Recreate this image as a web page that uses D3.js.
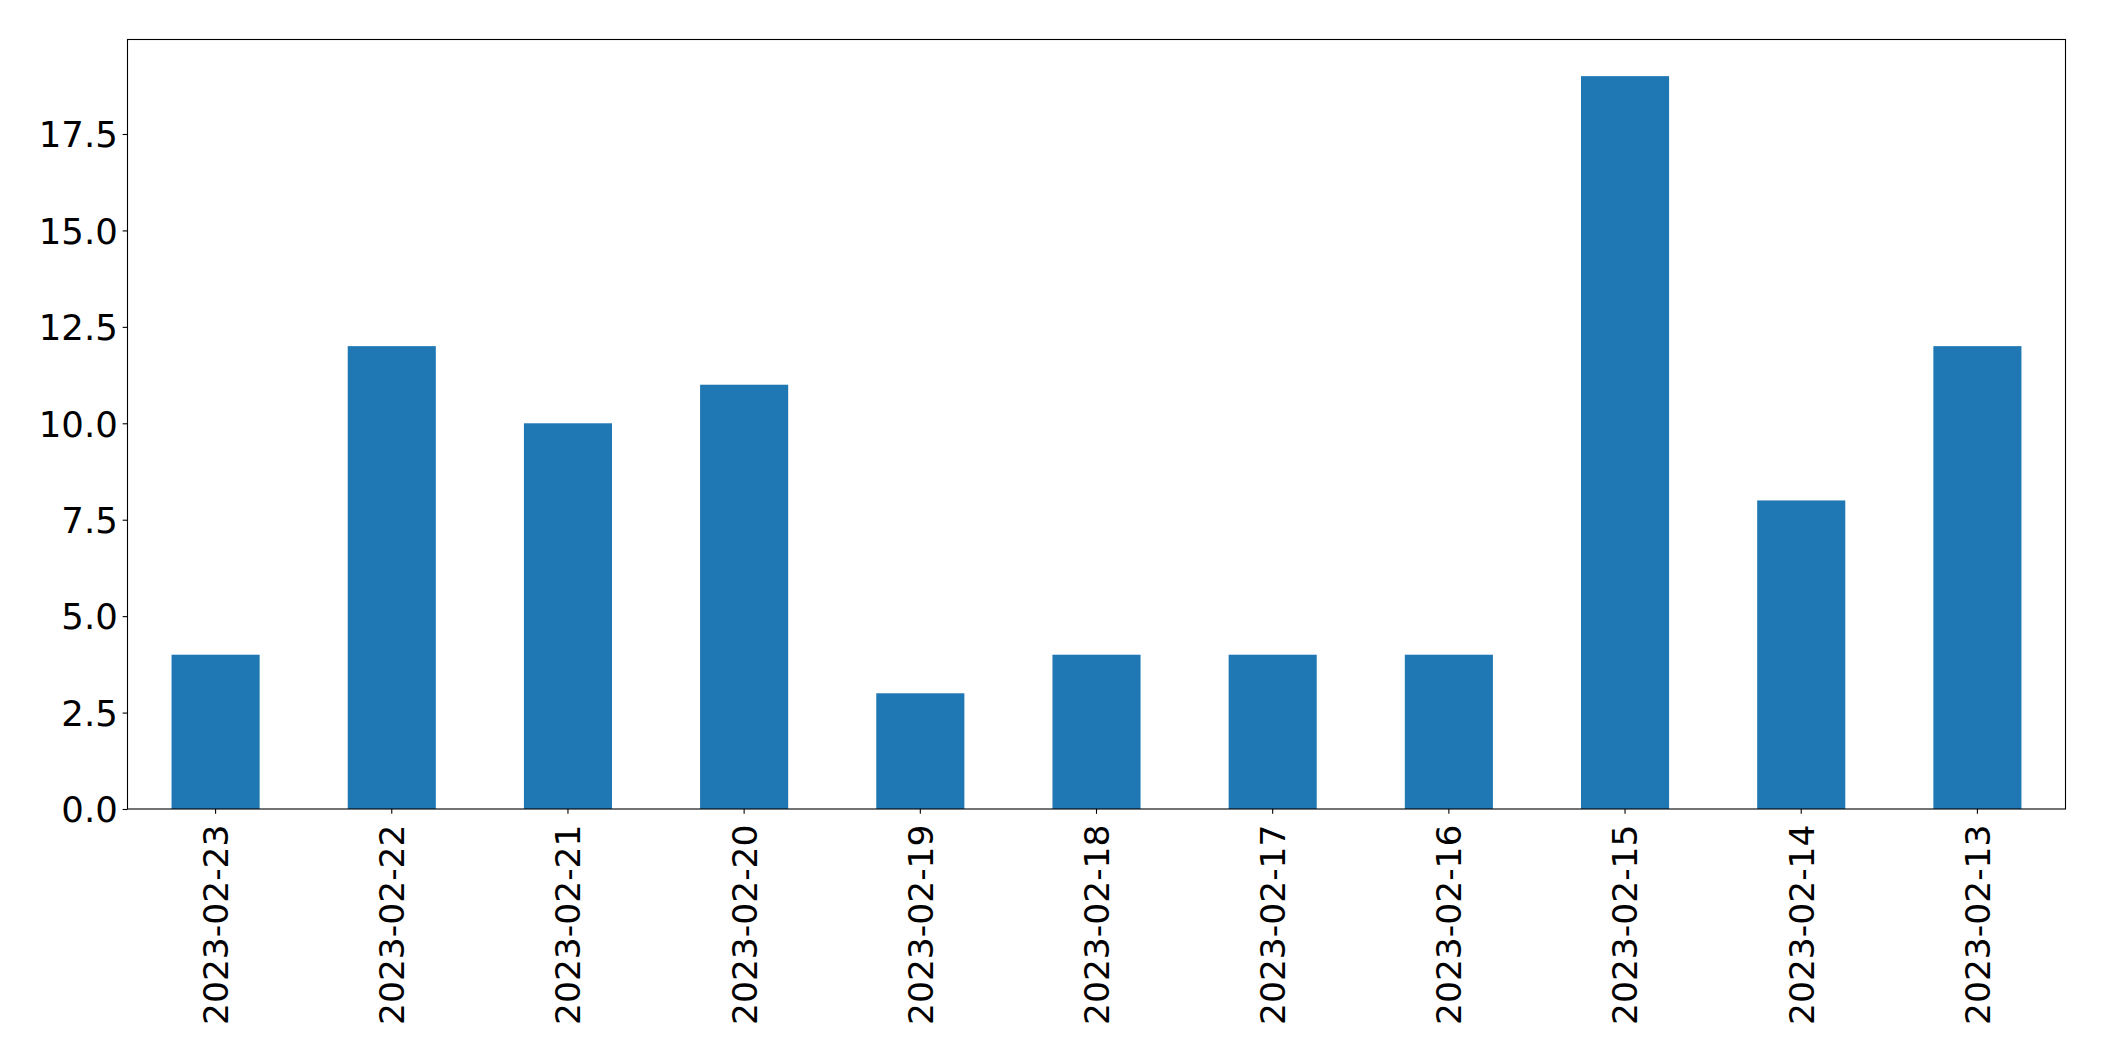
<!DOCTYPE html>
<html>
<head>
<meta charset="utf-8">
<script src="https://cdn.jsdelivr.net/npm/d3@7"></script>
<style>
html,body{margin:0;padding:0;background:#fff;}
svg{display:block;}
text{font-family:"DejaVu Sans",sans-serif;fill:#000;}
</style>
</head>
<body>
<svg id="chart" width="2104" height="1061"></svg>
<script>
const categories = ["2023-02-23","2023-02-22","2023-02-21","2023-02-20","2023-02-19","2023-02-18","2023-02-17","2023-02-16","2023-02-15","2023-02-14","2023-02-13"];
const values = [4,12,10,11,3,4,4,4,19,8,12];
const yTicks = [0,2.5,5,7.5,10,12.5,15,17.5];

(function(){
const svg = d3.select("#chart");
const mLeft = 127.5, mRight = 2065.5, mTop = 39.5, mBottom = 809;
const yFont = 35.5, xFont = 34.5;
const tickLen = 4.86, tickPad = 4.86;

const x = d3.scaleBand().domain(categories).range([mLeft, mRight]).paddingInner(0.5).paddingOuter(0.25);
const y = d3.scaleLinear().domain([0, d3.max(values) * 1.05]).range([mBottom, mTop]);

svg.append("g").selectAll("rect").data(values).join("rect")
  .attr("x", (d,i) => x(categories[i]))
  .attr("width", x.bandwidth())
  .attr("y", d => y(d))
  .attr("height", d => y(0) - y(d))
  .attr("fill", "#1f77b4");

const yAxis = d3.axisLeft(y).tickValues(yTicks).tickFormat(d3.format(".1f")).tickSizeInner(tickLen).tickSizeOuter(0).tickPadding(tickPad);
const gy = svg.append("g").attr("transform", `translate(${mLeft},0)`).call(yAxis);
gy.select(".domain").remove();
gy.selectAll(".tick line").attr("stroke", "#000").attr("stroke-width", 1.1);
gy.selectAll(".tick text").attr("font-size", yFont).attr("font-family", "DejaVu Sans").attr("dy", "0.36em");

const xAxis = d3.axisBottom(x).tickSizeInner(tickLen).tickSizeOuter(0).tickPadding(tickPad);
const gx = svg.append("g").attr("transform", `translate(0,${mBottom})`).call(xAxis);
gx.select(".domain").remove();
gx.selectAll(".tick line").attr("stroke", "#000").attr("stroke-width", 1.1);
gx.selectAll(".tick text")
  .attr("font-size", xFont).attr("font-family", "DejaVu Sans")
  .attr("text-anchor", "end")
  .attr("transform", "rotate(-90)")
  .attr("x", -15.5)
  .attr("y", 0)
  .attr("dy", "0.36em");

svg.append("rect").attr("x", mLeft).attr("y", mTop).attr("width", mRight - mLeft).attr("height", mBottom - mTop)
  .attr("fill", "none").attr("stroke", "#000").attr("stroke-width", 1.1);
})();
</script>
</body>
</html>
